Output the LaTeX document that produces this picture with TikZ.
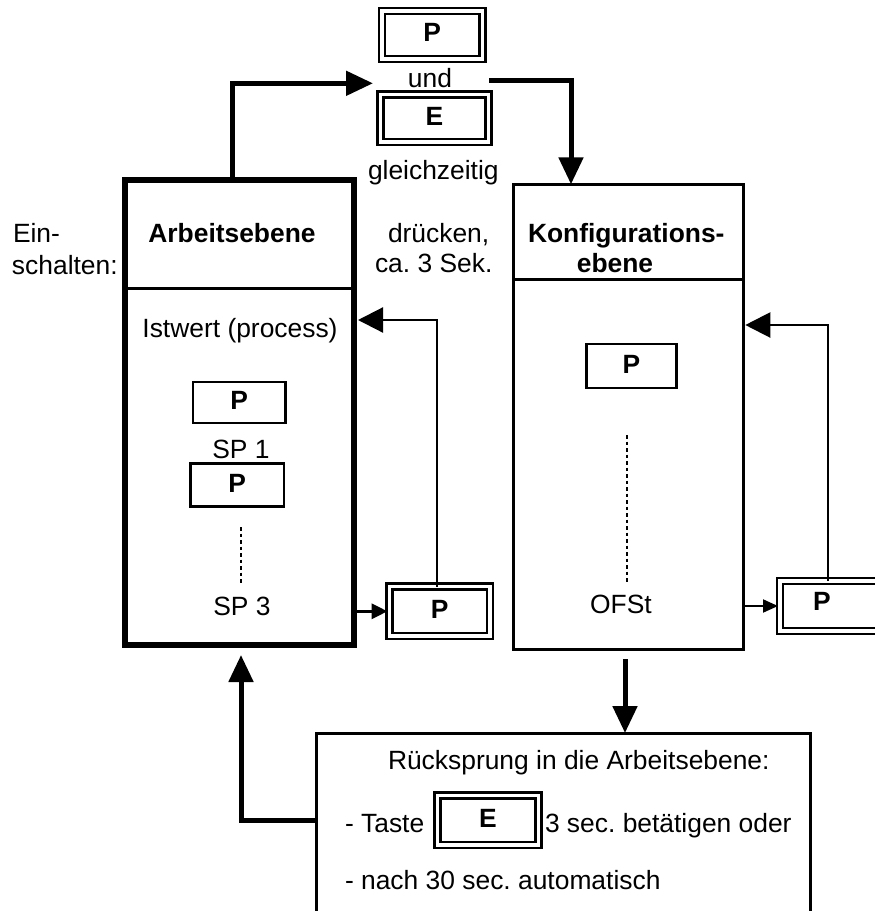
\documentclass[tikz,border=0pt]{standalone}
\usepackage{fontspec}
\setmainfont{Liberation Sans}
\usetikzlibrary{arrows.meta}
\newcommand\fsz{\fontsize{26.4pt}{31pt}\selectfont\frenchspacing}
\begin{document}
\begin{tikzpicture}[x=1pt,y=-1pt,
  every node/.style={font=\fsz, inner sep=0pt, outer sep=0pt},
  txt/.style={anchor=base},
  txtl/.style={anchor=base west},
  bold/.style={font=\fsz\bfseries},
  level/.style={draw, rectangle, anchor=north west},
  keybox/.style={draw, line width=2.6pt, font=\fsz\bfseries, text height=18.9pt, text depth=4pt},
  dkey/.style={draw, line width=2.4pt, double=white, double distance=3.6pt, font=\fsz\bfseries, text height=18.9pt, text depth=4.5pt},
  bigarrow/.style={line width=5pt, -{Triangle[length=27pt,width=24pt]}},
  thinarrow/.style={line width=2.2pt, -{Triangle[length=25pt,width=25pt]}},
  smallA/.style={line width=3.5pt, -{Triangle[length=16pt,width=15pt]}},
  smallB/.style={line width=2pt, -{Triangle[length=15pt,width=13pt]}},
  dots/.style={line width=1.6pt, dash pattern=on 3.5pt off 3pt}
]
\useasboundingbox (0,0) rectangle (875,911);
\clip (0,0) rectangle (875,911);

% level boxes
\node[level, line width=6pt, minimum width=228.5pt, minimum height=465pt] (arb) at (125,180) {};
\node[level, line width=3.3pt, minimum width=229.6pt, minimum height=465pt] (konf) at (513.7,184.3) {};
\node[level, line width=3pt, minimum width=493.3pt, minimum height=300pt] (bot) at (316.7,733) {};

\draw[line width=2.6pt] (arb.west |- 0,288.3) -- (arb.east |- 0,288.3);
\draw[line width=2.6pt] (konf.west |- 0,279.3) -- (konf.east |- 0,279.3);

% keys
\node[dkey, minimum width=100.8pt, minimum height=48pt] (tp) at (432.1,34.7) {P};
\node[dkey, minimum width=108pt, minimum height=47.7pt] (te) at (434.3,118.2) {E};
\node[keybox, minimum width=92.7pt, minimum height=41pt] (p1) at (239.2,402.5) {P};
\node[keybox, minimum width=93.3pt, minimum height=42.5pt] (p2) at (237.3,485) {P};
\node[keybox, minimum width=90pt, minimum height=44pt] (kp) at (631.3,366) {P};
\node[dkey, minimum width=100.5pt, minimum height=49.5pt] (lp) at (439.8,611.3) {P};
\node[dkey, minimum width=100pt, minimum height=50pt] (rp) at (830,606) {};
\node[bold, txt] (rpl) at (822,610) {P};
\node[dkey, minimum width=101pt, minimum height=49.5pt] (be) at (488,820.3) {E};

% texts
\node[txt] (und) at (430,87) {und};
\node[txtl] (gleich) at (368,179) {gleichzeitig};
\node[txtl] (ein) at (13,242) {Ein-};
\node[txtl] (schalt) at (12,274) {schalten:};
\node[txt, bold] (arbt) at (232,242) {Arbeitsebene};
\node[txt] (ist) at (240,337) {Istwert (process)};
\node[txtl, bold] (konft) at (528,242) {Konfigurations-};
\node[txt, bold] (konft2) at (615,272) {ebene};
\node[txtl] (druck) at (388,242) {drücken,};
\node[txtl] (sek) at (375,272) {ca. 3 Sek.};
\node[txt] (sp1) at (241,458) {SP 1};
\node[txt] (sp3) at (242,615) {SP 3};
\node[txt] (ofst) at (621,613) {OFSt};
\node[txtl] (rueck) at (388,769) {Rücksprung in die Arbeitsebene:};
\node[txtl] (taste) at (345,832) {- Taste};
\node[txtl] (betae) at (545,832) {3 sec. betätigen oder};
\node[txtl] (nach) at (345,889) {- nach 30 sec. automatisch};

% dotted lines
\coordinate (da1) at (241,527);
\coordinate (da2) at (241,585);
\coordinate (db1) at (627,435);
\coordinate (db2) at (627,583);
\draw[dots] (da1) -- (da2);
\draw[dots] (db1) -- (db2);

% connectors
\coordinate (b1) at (232,83.3);
\coordinate (inA) at (373,83.3);
\draw[bigarrow] (b1 |- arb.north) -- (b1) -- (inA);

\coordinate (outB) at (489,80);
\coordinate (b2) at (571,80);
\draw[bigarrow] (outB) -- (b2) -- (b2 |- konf.north);

\coordinate (f1) at (437,320);
\draw[thinarrow] (f1 |- lp.north) -- (f1) -- ([xshift=4.5pt]f1 -| arb.east);

\coordinate (f2) at (828,325);
\draw[thinarrow] (f2 |- rp.north) -- (f2) -- ([xshift=2pt]f2 -| konf.east);

\draw[smallA] (arb.east |- lp.west) -- ([xshift=-2pt]lp.west);
\draw[smallB] (konf.east |- rp.west) -- ([xshift=-2pt]rp.west);

\coordinate (d1) at (625,659);
\draw[bigarrow] (d1) -- (d1 |- bot.north);

\coordinate (u1) at (241,820);
\coordinate (u2) at (241,655);
\draw[bigarrow] (u1 -| bot.west) -- (u1) -- (u2);
\end{tikzpicture}
\end{document}
